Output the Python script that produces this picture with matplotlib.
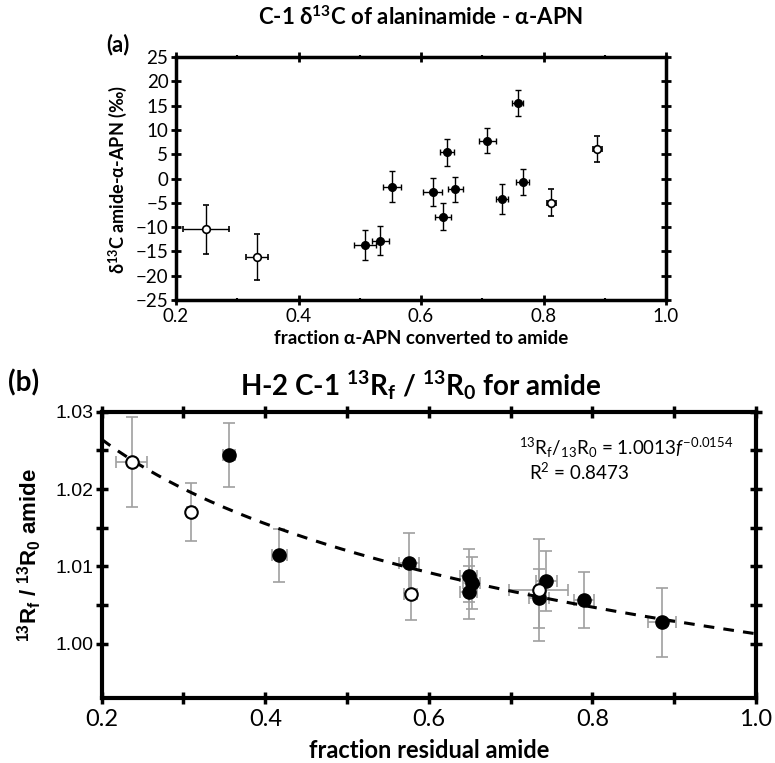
import numpy as np
import matplotlib.pyplot as plt
from matplotlib.ticker import MultipleLocator

plt.rcParams['font.family'] = ['Lato', 'DejaVu Sans']
plt.rcParams['mathtext.fontset'] = 'custom'
plt.rcParams['mathtext.rm'] = 'Lato'
plt.rcParams['mathtext.it'] = 'Lato:italic'
plt.rcParams['mathtext.bf'] = 'Lato:bold'

# (a) delta 13C amide - a-APN vs fraction converted
a_fill_x = [0.508, 0.5335, 0.5526, 0.619, 0.636, 0.6425, 0.656, 0.708, 0.732, 0.758, 0.766]
a_fill_y = [-13.6, -12.8, -1.65, -2.8, -7.83, 5.36, -2.2, 7.76, -4.19, 15.6, -0.69]
a_fill_xerr = [0.018, 0.014, 0.0145, 0.015, 0.013, 0.012, 0.012, 0.014, 0.010, 0.009, 0.011]
a_fill_yerr = [3.1, 3.0, 3.1, 2.9, 2.8, 2.7, 2.6, 2.6, 3.1, 2.7, 2.7]

a_open_x = [0.249, 0.332, 0.813, 0.888]
a_open_y = [-10.4, -16.07, -4.95, 6.1]
a_open_xerr = [0.0376, 0.0185, 0.008, 0.007]
a_open_yerr = [5.05, 4.74, 2.8, 2.7]

# (b) 13Rf/13R0 vs fraction residual amide
b_fill_x = [0.3557, 0.4172, 0.576, 0.6487, 0.6523, 0.6487, 0.7347, 0.7436, 0.7895, 0.8848]
b_fill_y = [1.02443, 1.01143, 1.01048, 1.00883, 1.00788, 1.00664, 1.00586, 1.00814, 1.00569, 1.00276]
b_fill_xerr = [0.007, 0.0095, 0.0125, 0.010, 0.010, 0.010, 0.012, 0.013, 0.0126, 0.0168]
b_fill_yerr = [0.0041, 0.0034, 0.0039, 0.0034, 0.0034, 0.0034, 0.0038, 0.0039, 0.0036, 0.0044]

b_open_x = [0.2367, 0.3088, 0.578, 0.7343]
b_open_y = [1.0235, 1.01705, 1.00647, 1.0070]
b_open_xerr = [0.0187, 0.005, 0.008, 0.036]
b_open_yerr = [0.0058, 0.0038, 0.0034, 0.0066]

fit_a = 1.0013
fit_b = -0.0154

fig = plt.figure(figsize=(7.75, 7.63), dpi=100)

# ---- panel (a)
ax1 = fig.add_axes([0.2271, 0.6068, 0.6323, 0.3185])
ax1.errorbar(a_fill_x, a_fill_y, xerr=a_fill_xerr, yerr=a_fill_yerr, fmt='o', color='black',
             ms=5.5, elinewidth=1, capsize=2.5, capthick=1)
ax1.errorbar(a_open_x, a_open_y, xerr=a_open_xerr, yerr=a_open_yerr, fmt='o', color='black',
             mfc='white', mec='black', mew=1.2, ms=5.5, elinewidth=1, capsize=2.5, capthick=1)
ax1.set_xlim(0.2, 1.0)
ax1.set_ylim(-25, 25)
ax1.xaxis.set_minor_locator(MultipleLocator(0.1))
ax1.yaxis.set_major_locator(MultipleLocator(5))
ax1.set_xticks([0.2, 0.4, 0.6, 0.8, 1.0])
ax1.set_xticklabels(['0.2', '0.4', '0.6', '0.8', '1.0'])
ax1.tick_params(which='major', direction='inout', length=7, width=2, labelsize=13.5,
                top=True, right=True, pad=2)
ax1.tick_params(which='minor', direction='inout', length=3, width=1.5, top=True)
for s in ax1.spines.values():
    s.set_linewidth(2.5)

fig.text(106 / 775, 1 - 45 / 763, '(a)', fontsize=16, fontweight='bold', ha='left', va='center')
fig.text(421 / 775, 1 - 17 / 763, r'C-1 δ$^{\mathregular{13}}$C of alaninamide - α-APN',
         fontsize=16, fontweight='bold', ha='center', va='center')
fig.text(421 / 775, 1 - 338 / 763, 'fraction α-APN converted to amide',
         fontsize=13.5, fontweight='bold', ha='center', va='center')
fig.text(118 / 775, 1 - 180 / 763, r'δ$^{\mathregular{13}}$C amide-α-APN (‰)',
         fontsize=13, fontweight='bold', ha='center', va='center', rotation=90)

# ---- panel (b)
ax2 = fig.add_axes([0.1312, 0.0852, 0.8443, 0.3752])
xf = np.linspace(0.2, 1.0, 200)
ax2.plot(xf, fit_a * xf ** fit_b, color='black', lw=2.2, ls=(0, (3.5, 3)), zorder=3)
ax2.errorbar(b_fill_x, b_fill_y, xerr=b_fill_xerr, yerr=b_fill_yerr, fmt='none', ecolor='#a0a0a0',
             elinewidth=1.2, capsize=4, capthick=1.2, zorder=2)
ax2.errorbar(b_open_x, b_open_y, xerr=b_open_xerr, yerr=b_open_yerr, fmt='none', ecolor='#a0a0a0',
             elinewidth=1.2, capsize=4, capthick=1.2, zorder=2)
ax2.plot(b_fill_x, b_fill_y, 'o', color='black', ms=9.5, zorder=4)
ax2.plot(b_open_x, b_open_y, 'o', mfc='white', mec='black', mew=1.5, ms=9, zorder=4)
ax2.set_xlim(0.2, 1.0)
ax2.set_ylim(0.993, 1.03)
ax2.set_xticks([0.2, 0.4, 0.6, 0.8, 1.0])
ax2.set_xticklabels(['0.2', '0.4', '0.6', '0.8', '1.0'])
ax2.xaxis.set_minor_locator(MultipleLocator(0.1))
ax2.set_yticks([1.00, 1.01, 1.02, 1.03])
ax2.set_yticklabels(['1.00', '1.01', '1.02', '1.03'], family=['Liberation Sans'])
ax2.set_yticks([1.005, 1.015, 1.025], minor=True)
ax2.tick_params(axis='x', which='major', labelsize=17, pad=4)
ax2.tick_params(axis='y', which='major', labelsize=14, pad=2)
ax2.tick_params(which='both', direction='inout', length=8, width=2.5, top=True, right=True)
for s in ax2.spines.values():
    s.set_linewidth(3)

ax2.text(0.965, 0.875, r'$\mathregular{^{13}R_f/_{13}R_0}$ = 1.0013$f^{\mathregular{-0.0154}}$',
         transform=ax2.transAxes, fontsize=13.5, ha='right', va='center')
ax2.text(0.73, 0.79, r'R$^{\mathregular{2}}$ = 0.8473', transform=ax2.transAxes,
         fontsize=13.5, ha='center', va='center')

fig.text(8 / 775, 1 - 383 / 763, '(b)', fontsize=20, fontweight='bold', ha='left', va='center')
fig.text(421 / 775, 1 - 385 / 763,
         r'H-2 C-1 $^{\mathregular{13}}$R$_{\mathregular{f}}$ / $^{\mathregular{13}}$R$_{\mathregular{0}}$ for amide',
         fontsize=20, fontweight='bold', ha='center', va='center')
fig.text(429 / 775, 1 - 750 / 763, 'fraction residual amide', fontsize=17, fontweight='bold',
         ha='center', va='center')
fig.text(30 / 775, 1 - 555 / 763,
         r'$^{\mathregular{13}}$R$_{\mathregular{f}}$ / $^{\mathregular{13}}$R$_{\mathregular{0}}$ amide',
         family=['Liberation Sans'], fontsize=16, fontweight='bold', ha='center', va='center', rotation=90)

fig.savefig('out.png', dpi=100)
